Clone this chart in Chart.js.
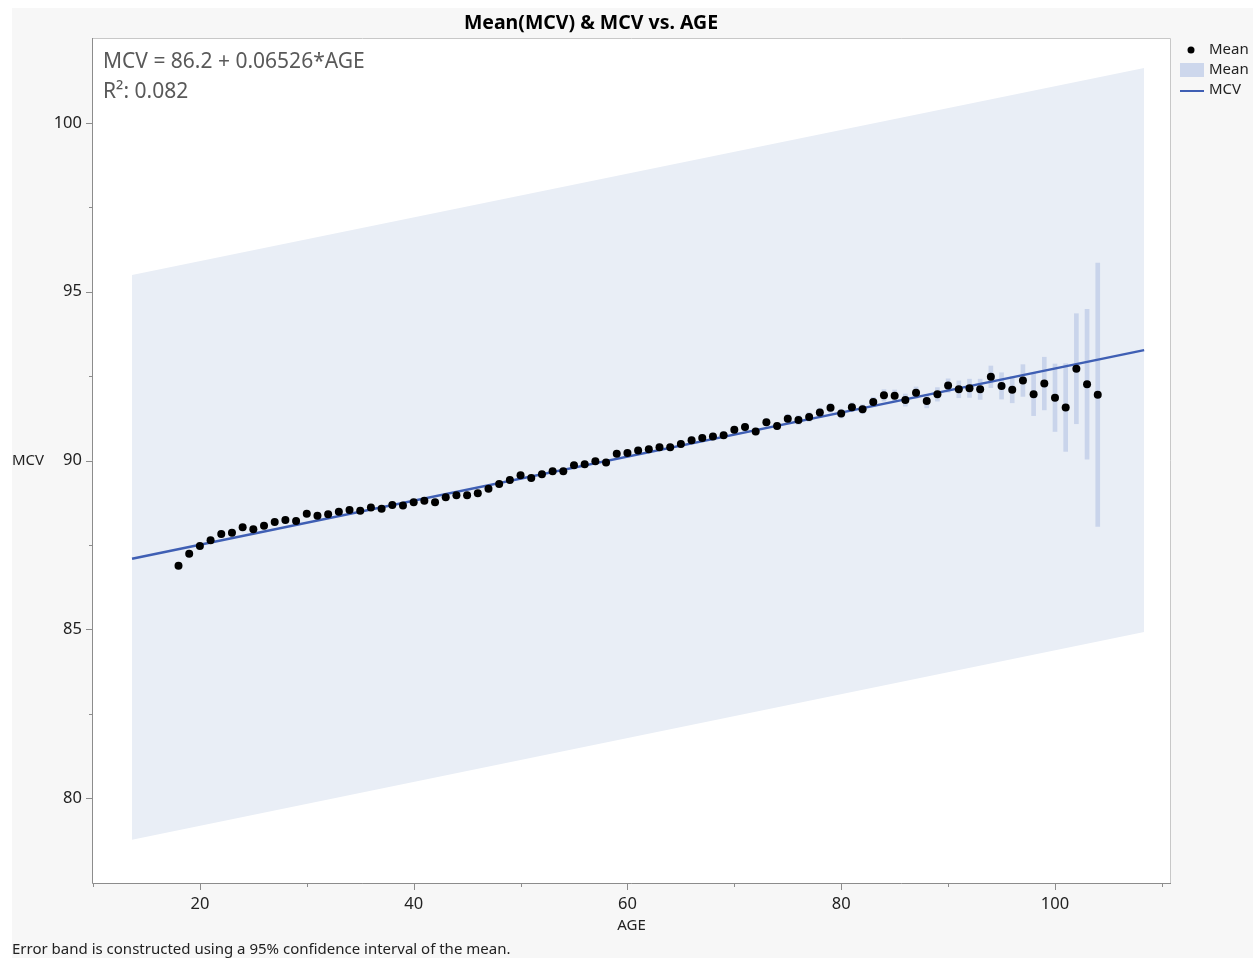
<!DOCTYPE html>
<html>
<head>
<meta charset="utf-8">
<title>Mean(MCV) &amp; MCV vs. AGE</title>
<script src="https://cdn.jsdelivr.net/npm/chart.js@4.4.0/dist/chart.umd.min.js"></script>
<style>
    html, body { margin: 0; padding: 0; background: #fff; }
    #wrap { width: 1253px; height: 958px; }
</style>
</head>
<body>
<div id="wrap"><canvas id="myChart" width="1253" height="958"></canvas></div>
<script>
// means of MCV for each age
var ages = [18, 19, 20, 21, 22, 23, 24, 25, 26, 27,
    28, 29, 30, 31, 32, 33, 34, 35, 36, 37,
    38, 39, 40, 41, 42, 43, 44, 45, 46, 47,
    48, 49, 50, 51, 52, 53, 54, 55, 56, 57,
    58, 59, 60, 61, 62, 63, 64, 65, 66, 67,
    68, 69, 70, 71, 72, 73, 74, 75, 76, 77,
    78, 79, 80, 81, 82, 83, 84, 85, 86, 87,
    88, 89, 90, 91, 92, 93, 94, 95, 96, 97,
    98, 99, 100, 101, 102, 103, 104];
var meanMCV = [86.88, 87.24, 87.47, 87.64, 87.82, 87.86, 88.02, 87.96, 88.07, 88.18,
    88.24, 88.21, 88.42, 88.36, 88.41, 88.48, 88.53, 88.51, 88.61, 88.57,
    88.68, 88.67, 88.76, 88.81, 88.76, 88.91, 88.97, 88.97, 89.03, 89.16,
    89.30, 89.42, 89.56, 89.48, 89.59, 89.68, 89.68, 89.86, 89.89, 89.98,
    89.94, 90.20, 90.22, 90.30, 90.33, 90.39, 90.39, 90.49, 90.60, 90.67,
    90.71, 90.75, 90.91, 90.99, 90.86, 91.13, 91.02, 91.24, 91.20, 91.29,
    91.42, 91.56, 91.39, 91.58, 91.52, 91.73, 91.93, 91.92, 91.79, 92.01,
    91.76, 91.96, 92.22, 92.11, 92.14, 92.11, 92.48, 92.21, 92.10, 92.37,
    91.96, 92.28, 91.86, 91.57, 92.72, 92.26, 91.95];
// half width of the 95% CI of each mean
var ciHalf = [0.08, 0.08, 0.08, 0.08, 0.08, 0.08, 0.08, 0.08, 0.08, 0.08,
    0.08, 0.08, 0.08, 0.08, 0.08, 0.08, 0.08, 0.08, 0.08, 0.08,
    0.08, 0.08, 0.08, 0.08, 0.08, 0.08, 0.08, 0.08, 0.08, 0.08,
    0.08, 0.08, 0.08, 0.08, 0.08, 0.08, 0.08, 0.08, 0.08, 0.08,
    0.08, 0.08, 0.08, 0.10, 0.10, 0.10, 0.10, 0.10, 0.10, 0.10,
    0.10, 0.10, 0.10, 0.10, 0.10, 0.10, 0.10, 0.13, 0.13, 0.13,
    0.13, 0.13, 0.13, 0.13, 0.13, 0.14, 0.17, 0.17, 0.18, 0.17,
    0.20, 0.20, 0.20, 0.25, 0.27, 0.30, 0.32, 0.39, 0.39, 0.47,
    0.63, 0.78, 1.00, 1.30, 1.63, 2.22, 3.90];

// fitted line and its band
var fitAge = [13.65, 108.34];
var fitMCV = [87.09, 93.27];
var bandUpper = [95.50, 101.63];
var bandLower = [78.76, 84.92];

var xTicks = [20, 40, 60, 80, 100];
var xMinorTicks = [10, 30, 50, 70, 90, 110];
var yTicks = [80, 85, 90, 95, 100];
var yMinorTicks = [82.5, 87.5, 92.5, 97.5];

var FONT = "'Noto Sans', 'Open Sans', sans-serif";

function pts(xs, ys) {
    return xs.map(function (x, i) { return { x: x, y: ys[i] }; });
}

var decor = {
    id: 'decor',
    beforeDraw: function (chart) {
        var ctx = chart.ctx, a = chart.chartArea;
        ctx.save();
        ctx.fillStyle = '#ffffff';
        ctx.fillRect(0, 0, chart.width, chart.height);
        ctx.fillStyle = '#f7f7f7';
        ctx.fillRect(12, 8, chart.width - 12, chart.height - 8);
        ctx.fillStyle = '#ffffff';
        ctx.fillRect(a.left, a.top, a.right - a.left, a.bottom - a.top);
        ctx.restore();
    },
    afterDraw: function (chart) {
        var ctx = chart.ctx, a = chart.chartArea;
        var xs = chart.scales.x, ys = chart.scales.y;
        ctx.save();
        // frame
        ctx.lineWidth = 1;
        ctx.strokeStyle = '#c8c8c8';
        ctx.beginPath();
        ctx.moveTo(a.left, a.top + 0.5); ctx.lineTo(a.right + 0.5, a.top + 0.5);
        ctx.lineTo(a.right + 0.5, a.bottom);
        ctx.stroke();
        ctx.strokeStyle = '#8c8c8c';
        ctx.beginPath();
        ctx.moveTo(a.left - 0.5, a.top); ctx.lineTo(a.left - 0.5, a.bottom + 0.5);
        ctx.lineTo(a.right + 1, a.bottom + 0.5);
        ctx.stroke();
        // tick marks
        ctx.beginPath();
        xTicks.forEach(function (v) {
            var p = Math.round(xs.getPixelForValue(v)) + 0.5;
            ctx.moveTo(p, a.bottom); ctx.lineTo(p, a.bottom + 7);
        });
        xMinorTicks.forEach(function (v) {
            var p = Math.round(xs.getPixelForValue(v)) + 0.5;
            ctx.moveTo(p, a.bottom); ctx.lineTo(p, a.bottom + 4);
        });
        yTicks.forEach(function (v) {
            var p = Math.round(ys.getPixelForValue(v)) + 0.5;
            ctx.moveTo(a.left, p); ctx.lineTo(a.left - 7, p);
        });
        yMinorTicks.forEach(function (v) {
            var p = Math.round(ys.getPixelForValue(v)) + 0.5;
            ctx.moveTo(a.left, p); ctx.lineTo(a.left - 4, p);
        });
        ctx.stroke();

        // title
        ctx.fillStyle = '#000';
        ctx.font = 'bold 19.5px ' + FONT;
        ctx.textAlign = 'center';
        ctx.textBaseline = 'middle';
        ctx.fillText('Mean(MCV) & MCV vs. AGE', 591, 23);

        // axis titles
        ctx.font = '15px ' + FONT;
        ctx.fillStyle = '#222';
        ctx.fillText('AGE', (a.left + a.right) / 2, 926);
        ctx.textAlign = 'left';
        ctx.fillText('MCV', 12, ys.getPixelForValue(90));

        // equation
        ctx.fillStyle = '#595959';
        ctx.font = '21px ' + FONT;
        ctx.fillText('MCV = 86.2 + 0.06526*AGE', 103, 62);
        ctx.fillText('R\u00b2: 0.082', 103, 92);

        // legend
        ctx.fillStyle = '#000';
        ctx.beginPath();
        ctx.arc(1191, 50, 3.5, 0, Math.PI * 2);
        ctx.fill();
        ctx.fillStyle = '#cdd7ec';
        ctx.fillRect(1180, 63, 24, 14);
        ctx.strokeStyle = '#3f5fb4';
        ctx.lineWidth = 2;
        ctx.beginPath();
        ctx.moveTo(1180, 91); ctx.lineTo(1204, 91);
        ctx.stroke();
        ctx.fillStyle = '#222';
        ctx.font = '15px ' + FONT;
        ctx.fillText('Mean', 1209, 50);
        ctx.fillText('Mean', 1209, 70);
        ctx.fillText('MCV', 1209, 90);

        // footnote
        ctx.font = '15px ' + FONT;
        ctx.fillText('Error band is constructed using a 95% confidence interval of the mean.', 12, 950);
        ctx.restore();
    }
};

var ctx = document.getElementById('myChart').getContext('2d');
var chart = new Chart(ctx, {
    type: 'scatter',
    data: {
        datasets: [{
            type: 'line',
            label: 'band upper',
            data: pts(fitAge, bandUpper),
            borderWidth: 0,
            pointRadius: 0,
            backgroundColor: '#e9eef6',
            fill: '+1',
            order: 4
        }, {
            type: 'line',
            label: 'band lower',
            data: pts(fitAge, bandLower),
            borderWidth: 0,
            pointRadius: 0,
            fill: false,
            order: 4
        }, {
            type: 'bar',
            label: 'Mean CI',
            data: ages.map(function (a, i) {
                return { x: a, y: [meanMCV[i] - ciHalf[i], meanMCV[i] + ciHalf[i]] };
            }),
            backgroundColor: '#c9d4eb',
            borderWidth: 0,
            barThickness: 4,
            order: 3
        }, {
            type: 'line',
            label: 'MCV',
            data: pts(fitAge, fitMCV),
            borderColor: '#3f5fb4',
            borderWidth: 2.5,
            pointRadius: 0,
            fill: false,
            order: 2
        }, {
            type: 'scatter',
            label: 'Mean',
            data: pts(ages, meanMCV),
            backgroundColor: '#000',
            borderWidth: 0,
            pointRadius: 4,
            order: 1
        }]
    },
    options: {
        responsive: false,
        animation: false,
        devicePixelRatio: 1,
        layout: { padding: { left: 0, top: 38, right: 83, bottom: 0 } },
        plugins: {
            legend: { display: false },
            tooltip: { enabled: false },
            title: { display: false }
        },
        scales: {
            x: {
                type: 'linear',
                offset: false,
                min: 10,
                max: 110.76,
                grid: { display: false, drawTicks: false, offset: false },
                border: { display: false },
                afterFit: function (scale) { scale.height = 75; },
                afterBuildTicks: function (scale) {
                    scale.ticks = xTicks.map(function (v) { return { value: v }; });
                },
                ticks: {
                    padding: 11,
                    color: '#222',
                    font: { family: FONT, size: 16.5 },
                    maxRotation: 0,
                    autoSkip: false
                }
            },
            y: {
                type: 'linear',
                min: 77.48,
                max: 102.52,
                grid: { display: false, drawTicks: false },
                border: { display: false },
                afterFit: function (scale) { scale.width = 93; },
                afterBuildTicks: function (scale) {
                    scale.ticks = yTicks.map(function (v) { return { value: v }; });
                },
                ticks: {
                    padding: 11,
                    color: '#222',
                    font: { family: FONT, size: 16.5 },
                    autoSkip: false
                }
            }
        }
    },
    plugins: [decor]
});
</script>
</body>
</html>
